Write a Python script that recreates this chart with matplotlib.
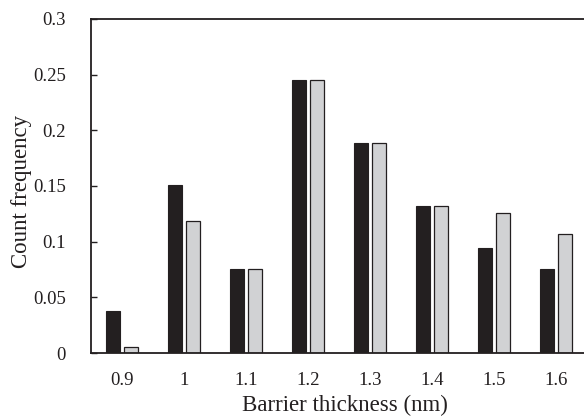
import matplotlib
matplotlib.use("Agg")
import matplotlib.pyplot as plt
import numpy as np

# barrier thickness categories and the two count-frequency series
thickness_labels = ["0.9", "1", "1.1", "1.2", "1.3", "1.4", "1.5", "1.6"]
freq_dark = [0.0377, 0.151, 0.0755, 0.245, 0.189, 0.132, 0.094, 0.0755]
freq_light = [0.0057, 0.119, 0.0755, 0.245, 0.189, 0.132, 0.126, 0.107]
y_ticks = [0, 0.05, 0.1, 0.15, 0.2, 0.25, 0.3]
y_tick_labels = ["0", "0.05", "0.1", "0.15", "0.2", "0.25", "0.3"]

plt.rcParams["font.family"] = ["Liberation Serif", "DejaVu Serif"]
ink = "#231f20"

W, H = 584, 420
fig = plt.figure(figsize=(W / 100, H / 100), dpi=100)
# axes: left spine at x=91, top at y=19, bottom at y=353; right edge just off the figure
ax = fig.add_axes([91 / W, (H - 353) / H, (587 - 91) / W, (353 - 19) / H])

x = np.arange(len(thickness_labels))
bw = 0.24
ax.bar(x - 0.145, freq_dark, bw, color=ink, edgecolor=ink, lw=0.8)
ax.bar(x + 0.145, freq_light, bw, color="#d1d2d4", edgecolor=ink, lw=0.9)

ax.set_xlim(-0.5, len(thickness_labels) - 0.5)
ax.set_ylim(0, 0.3)
ax.set_xticks(x)
ax.set_xticklabels(thickness_labels, fontsize=13.5, color=ink)
ax.set_yticks(y_ticks)
ax.set_yticklabels(y_tick_labels, fontsize=13.5, color=ink)
ax.tick_params(axis="x", length=0, pad=14)
ax.tick_params(axis="y", direction="in", length=4, width=1.0, color=ink, pad=18)

for side in ("left", "bottom", "top"):
    ax.spines[side].set_color(ink)
    ax.spines[side].set_linewidth(1.3)
ax.spines["right"].set_visible(False)

ax.set_xlabel("Barrier thickness (nm)", fontsize=16.5, color=ink)
ax.set_ylabel("Count frequency", fontsize=16.5, color=ink)
ax.xaxis.set_label_coords(0.512, -0.125)
ax.yaxis.set_label_coords(-0.119, 0.485)

fig.savefig("out.png", dpi=100)
